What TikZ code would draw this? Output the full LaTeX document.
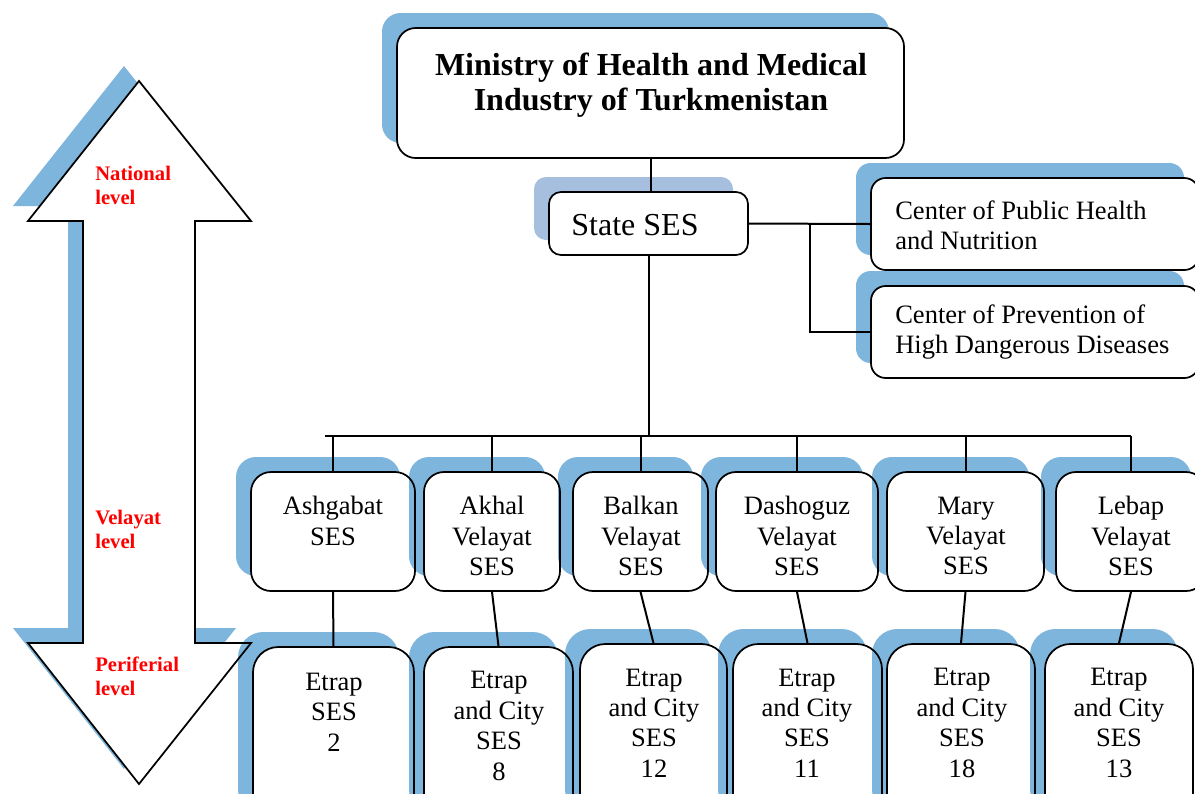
\documentclass[tikz,border=0pt]{standalone}
\usepackage{fontspec}
\setmainfont{Liberation Serif}
\usetikzlibrary{fit}
\definecolor{shad}{RGB}{126,181,220}
\definecolor{shadlight}{RGB}{167,191,222}
\definecolor{lvl}{RGB}{255,0,0}
\tikzset{
  boxst/.style={draw=black, fill=white, line width=1.3pt, inner sep=0pt},
  conn/.style={draw=black, line width=1.5pt},
  txt/.style={align=center, inner sep=0pt, font=\fontsize{19.9}{22.8}\selectfont},
  txtl/.style={align=left, anchor=west, inner sep=0pt, font=\fontsize{19.9}{22.8}\selectfont},
  bigtxt/.style={align=center, inner sep=0pt, font=\fontsize{24}{26.3}\selectfont\bfseries},
  lvltxt/.style={align=left, anchor=west, inner sep=0pt, text=lvl, font=\fontsize{15.5}{18}\selectfont\bfseries},
}
\newcommand\orgbox[7]{%
  \begin{scope}[blend mode=multiply]
    \fill[#7, rounded corners=#6] (#2-15,#3-15) rectangle (#4-15,#5-15);
  \end{scope}
  \node[boxst, rounded corners=#6, fit={(#2,#3) (#4,#5)}] (#1) {};%
}
\begin{document}
\begin{tikzpicture}[x=0.75pt, y=-0.75pt]
\clip (0,0) rectangle (1195,793);
\fill[white] (0,0) rectangle (1195,793);

% double arrow
\fill[shad] (139-15,81-15) -- (251-15,221-15) -- (195-15,221-15) -- (195-15,643-15) -- (251-15,643-15)
  -- (139-15,784-15) -- (28-15,643-15) -- (83-15,643-15) -- (83-15,221-15) -- (28-15,221-15) -- cycle;
\draw[fill=white, line width=1.3pt, line join=miter] (139,81) -- (251,221) -- (195,221) -- (195,643) -- (251,643)
  -- (139,784) -- (28,643) -- (83,643) -- (83,221) -- (28,221) -- cycle;
\node[lvltxt] (lnat) at (95,185) {National\\level};
\node[lvltxt] (lvel) at (95,529) {Velayat\\level};
\node[lvltxt] (lper) at (95,676) {Periferial\\level};

% top boxes
\orgbox{min}{397}{28}{904}{158}{14pt}{shad}
\node[bigtxt] (mint) at (651,85) {Ministry of Health and Medical\\Industry of Turkmenistan};
\orgbox{st}{549}{192}{748}{255}{9pt}{shadlight}
\node[txt, font=\fontsize{24}{26}\selectfont] (stt) at (635,225) {State SES};
\orgbox{c1}{871}{178}{1199}{270}{11pt}{shad}
\node[txtl] (c1t) at (895,225) {Center of Public Health\\and Nutrition};
\orgbox{c2}{871}{286}{1199}{378}{11pt}{shad}
\node[txtl] (c2t) at (895,332) {Center of Prevention of\\High Dangerous Diseases};

% velayat boxes
\orgbox{v1}{251}{472}{415}{591}{15pt}{shad}
\orgbox{v2}{424}{472}{560}{591}{15pt}{shad}
\orgbox{v3}{573}{472}{708}{591}{15pt}{shad}
\orgbox{v4}{716}{472}{878}{591}{15pt}{shad}
\orgbox{v5}{887}{472}{1044}{591}{15pt}{shad}
\orgbox{v6}{1056}{472}{1206}{591}{15pt}{shad}
\node[txt] (v1t) at (333,521) {Ashgabat\\SES};
\node[txt] (v2t) at (492,536) {Akhal\\Velayat\\SES};
\node[txt] (v3t) at (641,536) {Balkan\\Velayat\\SES};
\node[txt] (v4t) at (797,536) {Dashoguz\\Velayat\\SES};
\node[txt] (v5t) at (966,536) {Mary\\Velayat\\SES};
\node[txt] (v6t) at (1131,536) {Lebap\\Velayat\\SES};

% etrap boxes
\orgbox{e1}{253}{647}{414}{830}{19pt}{shad}
\orgbox{e2}{424}{647}{573}{830}{19pt}{shad}
\orgbox{e3}{580}{644}{727}{830}{19pt}{shad}
\orgbox{e4}{733}{644}{882}{830}{19pt}{shad}
\orgbox{e5}{887}{644}{1035}{830}{19pt}{shad}
\orgbox{e6}{1045}{644}{1193}{830}{19pt}{shad}
\node[txt] (e1t) at (334,712) {Etrap\\SES\\2};
\node[txt] (e2t) at (499,726) {Etrap\\and City\\SES\\8};
\node[txt] (e3t) at (654,723) {Etrap\\and City\\SES\\12};
\node[txt] (e4t) at (807,723) {Etrap\\and City\\SES\\11};
\node[txt] (e5t) at (962,723) {Etrap\\and City\\SES\\18};
\node[txt] (e6t) at (1119,723) {Etrap\\and City\\SES\\13};

% connectors
\coordinate (busL) at (325,436);
\coordinate (busR) at (1131,436);
\coordinate (br) at (810,224);
\draw[conn] (min.south) -- (min.south |- st.north);
\draw[conn] (st.east) -- (c1.west);
\draw[conn] (br) |- (c2.west);
\draw[conn] (st.south) -- (st.south |- busL);
\draw[conn] (busL) -- (busR);
\foreach \v in {v1,v2,v3,v4,v5,v6} {
  \draw[conn] (\v.north) -- (\v.north |- busL);
}
\foreach \v/\e in {v1/e1,v2/e2,v3/e3,v4/e4,v5/e5,v6/e6} {
  \draw[conn] (\v.south) -- (\e.north);
}
\end{tikzpicture}
\end{document}
